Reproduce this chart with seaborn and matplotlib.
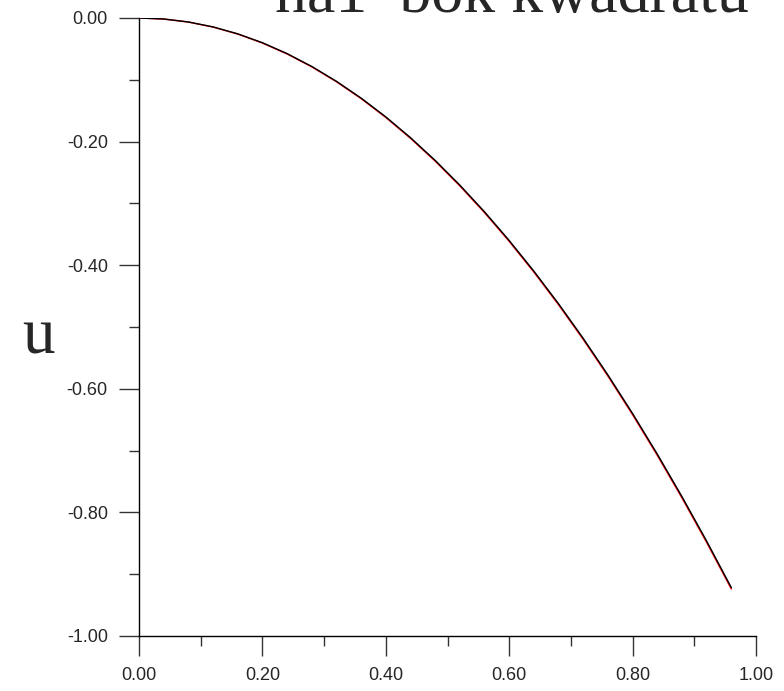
import matplotlib
matplotlib.use("Agg")
import matplotlib.pyplot as plt
import numpy as np
import pandas as pd
import seaborn as sns
from matplotlib.ticker import MultipleLocator, FormatStrFormatter

# --- data ---
x_vals = [0.00, 0.04, 0.08, 0.12, 0.16, 0.20, 0.24, 0.28, 0.32, 0.36, 0.40, 0.44,
          0.48, 0.52, 0.56, 0.60, 0.64, 0.68, 0.72, 0.76, 0.80, 0.84, 0.88, 0.92, 0.96]
u_black = [0.0000, -0.0016, -0.0064, -0.0144, -0.0256, -0.0400, -0.0576, -0.0784,
           -0.1024, -0.1296, -0.1600, -0.1936, -0.2304, -0.2704, -0.3136, -0.3600,
           -0.4096, -0.4624, -0.5184, -0.5776, -0.6400, -0.7056, -0.7744, -0.8464, -0.9216]
u_red = [0.0000, -0.0017, -0.0066, -0.0147, -0.0260, -0.0405, -0.0582, -0.0791,
         -0.1032, -0.1305, -0.1610, -0.1947, -0.2316, -0.2717, -0.3150, -0.3615,
         -0.4112, -0.4641, -0.5202, -0.5795, -0.6420, -0.7077, -0.7766, -0.8487, -0.9240]

title_text = "na1  bok kwadratu"
ylabel_text = "u"

sns.set_theme(style="white")
plt.rcParams["font.family"] = ["Liberation Sans", "DejaVu Sans"]
plt.rcParams["axes.unicode_minus"] = False

df = pd.DataFrame({"x": x_vals * 2,
                   "u": u_red + u_black,
                   "series": ["red"] * len(x_vals) + ["black"] * len(x_vals)})

fig = plt.figure(figsize=(7.84, 6.91), dpi=100)
ax = fig.add_axes([139 / 784, 1 - 636 / 691, (756 - 139) / 784, (636 - 18) / 691])

sns.lineplot(data=df, x="x", y="u", hue="series", palette={"red": "#ff0000", "black": "#000000"},
             linewidth=1.0, legend=False, ax=ax, sort=False, estimator=None)

ax.set_xlim(0, 1)
ax.set_ylim(-1, 0)
ax.set_xlabel("")
ax.set_ylabel("")

for side in ["top", "right"]:
    ax.spines[side].set_visible(False)
for side in ["left", "bottom"]:
    ax.spines[side].set_color("black")
    ax.spines[side].set_linewidth(1.0)

ax.xaxis.set_major_locator(MultipleLocator(0.2))
ax.xaxis.set_minor_locator(MultipleLocator(0.1))
ax.yaxis.set_major_locator(MultipleLocator(0.2))
ax.yaxis.set_minor_locator(MultipleLocator(0.1))
ax.xaxis.set_major_formatter(FormatStrFormatter("%.2f"))
ax.yaxis.set_major_formatter(FormatStrFormatter("%.2f"))

ax.tick_params(which="major", direction="out", length=14.5, width=1.0, color="#333333",
               labelsize=13, pad=8, bottom=True, left=True)
ax.tick_params(which="minor", direction="out", length=7.5, width=1.0, color="#333333",
               bottom=True, left=True)
ax.grid(False)

fig.text(512 / 784, 1 - 12 / 691, title_text, ha="center", va="baseline",
         fontsize=46, family=["Liberation Serif", "DejaVu Serif"])
fig.text(22 / 784, 1 - 353 / 691, ylabel_text, ha="left", va="baseline",
         fontsize=47, family=["Liberation Serif", "DejaVu Serif"])

fig.savefig("out.png", dpi=100)
